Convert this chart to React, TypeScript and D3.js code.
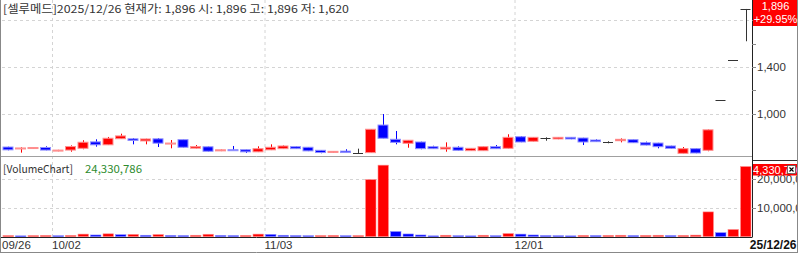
import React from "react";
import * as d3 from "d3";

const dates = [
  "2025-09-26","2025-09-29","2025-09-30",
  "2025-10-01","2025-10-02","2025-10-10",
  "2025-10-13","2025-10-14","2025-10-15","2025-10-16","2025-10-17",
  "2025-10-20","2025-10-21","2025-10-22","2025-10-23","2025-10-24",
  "2025-10-27","2025-10-28","2025-10-29","2025-10-30","2025-10-31",
  "2025-11-03","2025-11-04","2025-11-05","2025-11-06","2025-11-07",
  "2025-11-10","2025-11-11","2025-11-12","2025-11-13","2025-11-14",
  "2025-11-17","2025-11-18","2025-11-19","2025-11-20","2025-11-21",
  "2025-11-24","2025-11-25","2025-11-26","2025-11-27","2025-11-28",
  "2025-12-01","2025-12-02","2025-12-03","2025-12-04","2025-12-05",
  "2025-12-08","2025-12-09","2025-12-10","2025-12-11","2025-12-12",
  "2025-12-15","2025-12-16","2025-12-17","2025-12-18","2025-12-19",
  "2025-12-22","2025-12-23","2025-12-24","2025-12-26",
];

const openP = [716,703,703,712,682,690,705,760,735,787,786,768,786,743,779,706,718,683,693,693,675,692,702,719,714,688,670,681,663,668,904,782,748,759,719,699,714,685,685,719,705,804,765,795,785,799,793,776,763,770,779,753,750,725,662,702,688,1122,1459,1896];
const highP = [719,714,714,722,692,730,774,782,802,830,793,787,793,776,780,733,720,694,725,694,722,739,730,722,716,690,680,697,702,870,998,853,776,762,727,756,722,707,721,733,825,810,801,799,800,800,795,782,765,790,781,762,752,727,716,704,866,1122,1459,1896];
const lowP = [688,668,702,688,680,676,697,719,733,785,739,739,716,705,712,704,678,681,685,666,673,690,699,700,681,663,668,668,662,665,790,739,710,697,700,676,686,683,684,700,703,757,763,770,783,783,733,760,748,756,751,731,705,703,660,663,680,1122,1459,1620];
const closeP = [692,708,712,690,690,720,757,735,791,811,772,785,749,750,714,720,680,692,686,675,702,714,725,702,683,669,679,669,663,868,791,756,774,702,702,714,688,705,719,702,799,759,799,795,799,785,759,762,763,782,753,733,719,705,702,665,863,1122,1459,1896];
const volumes = [400000,300000,400000,450000,350000,450000,900000,600000,1000000,700000,800000,500000,750000,450000,400000,500000,850000,450000,400000,450000,900000,800000,500000,400000,350000,400000,450000,350000,400000,19800000,24800000,1800000,950000,600000,300000,500000,350000,300000,500000,350000,1100000,900000,600000,400000,350000,300000,450000,400000,450000,500000,400000,450000,500000,400000,450000,550000,8600000,1400000,2500000,24330786];

const dateLabels = ["2025-09-26","2025-10-02","2025-11-03","2025-12-01"];
const priceTicks = [1000, 1200, 1400, 1600, 1800];
const priceGrid = [1000, 1400, 1800];
const priceLabels = [1000, 1400];
const volumeTicks = [10000000, 20000000];

const headerText = "[셀루메드]2025/12/26 현재가: 1,896 시: 1,896 고: 1,896 저: 1,620";
const lastPriceText = "1,896";
const changeText = "+29.95%";
const volumeTitle = "[VolumeChart]";
const volumeValueText = "24,330,786";
const lastDateText = "25/12/26";

const RED = "#ff0000";
const BLUE = "#0000ff";
const RED_L = "#ff9090";
const BLUE_L = "#9090ff";
const DOJI = "#333333";
const GRID = "#d4d4d4";
const NUMFONT = "'Liberation Sans', Arial, sans-serif";
const KRFONT = "'Noto Sans CJK KR', 'Liberation Sans', sans-serif";

export default function App() {
  const plotL = 2, plotR = 752;
  const x = d3.scaleBand<string>().domain(dates).range([plotL, plotR]).paddingInner(0).paddingOuter(0);
  const y = d3.scaleLinear().domain([1000, 1800]).range([113.8, 20.2]);
  const yv = d3.scaleLinear().domain([0, 20000000]).range([236.7, 179]);
  const fmt = d3.format(",");

  return (
    <svg width={800} height={255} style={{ position: "absolute", left: 0, top: 0, background: "#fff" }}>
      <rect x={0} y={0} width={800} height={255} fill="#fff" />
      {/* vertical grid */}
      {dateLabels.slice(1).map((d) => (
        <line key={"vg" + d} x1={(x(d) as number) + 0.5} x2={(x(d) as number) + 0.5} y1={0} y2={237} stroke={GRID} strokeDasharray="3,3" />
      ))}
      {/* price grid */}
      {priceGrid.map((p) => (
        <line key={"pg" + p} x1={plotL} x2={plotR} y1={Math.round(y(p)) + 0.5} y2={Math.round(y(p)) + 0.5} stroke={GRID} strokeDasharray="3,3" />
      ))}
      {/* volume grid */}
      {volumeTicks.map((v) => (
        <line key={"vgr" + v} x1={plotL} x2={plotR} y1={Math.round(yv(v)) + 0.5} y2={Math.round(yv(v)) + 0.5} stroke={GRID} strokeDasharray="3,3" />
      ))}

      {/* candles */}
      {dates.map((d, i) => {
        const left = x(d) as number;
        const cx = Math.round(left + 6) + 0.5;
        const o = openP[i], c = closeP[i], h = highP[i], l = lowP[i];
        const up = c > o, flat = c === o;
        const col = flat ? DOJI : up ? RED : BLUE;
        const lcol = flat ? DOJI : up ? RED_L : BLUE_L;
        const top = y(Math.max(o, c)), bot = y(Math.min(o, c));
        return (
          <g key={"c" + d}>
            <line x1={cx} x2={cx} y1={y(h)} y2={y(l)} stroke={col} strokeWidth={1} />
            {flat ? (
              <line x1={left + 1} x2={left + 11} y1={Math.round(top) + 0.5} y2={Math.round(top) + 0.5} stroke={col} strokeWidth={1} />
            ) : (
              <rect x={left + 1} y={top} width={10} height={Math.max(1, bot - top)} fill={col} stroke={lcol} strokeWidth={1} />
            )}
          </g>
        );
      })}

      {/* volume bars */}
      {dates.map((d, i) => {
        const left = x(d) as number;
        const v = volumes[i];
        const up = i === 0 || v >= volumes[i - 1];
        const top = yv(v);
        return (
          <rect key={"v" + d} x={left + 1} y={top} width={10.5} height={Math.max(1, 236.7 - top)} fill={up ? RED : BLUE} stroke={up ? RED_L : BLUE_L} strokeWidth={0.6} />
        );
      })}

      {/* panel separator */}
      <line x1={0} x2={752} y1={156.5} y2={156.5} stroke="#a0a0a0" />
      <line x1={752} x2={798} y1={160.5} y2={160.5} stroke="#333" />
      {/* axis lines */}
      <line x1={752.5} x2={752.5} y1={0} y2={237} stroke="#222" />
      <line x1={0} x2={752.5} y1={237.5} y2={237.5} stroke="#222" />
      {/* frame */}
      <line x1={0.5} x2={0.5} y1={0} y2={253} stroke="#888" />
      <line x1={797.5} x2={797.5} y1={0} y2={253} stroke="#888" />
      <line x1={0} x2={798} y1={252.5} y2={252.5} stroke="#888" />

      {/* price ticks and labels */}
      {priceTicks.map((p) => (
        <line key={"pt" + p} x1={752} x2={756} y1={Math.round(y(p)) + 0.5} y2={Math.round(y(p)) + 0.5} stroke="#888" />
      ))}
      {priceLabels.map((p) => (
        <text key={"pl" + p} x={757} y={y(p) + 4} fontFamily={NUMFONT} fontSize={11.5} fill="#333">{fmt(p)}</text>
      ))}
      {/* volume ticks and labels */}
      <clipPath id="axclip"><rect x={753} y={0} width={44} height={255} /></clipPath>
      {volumeTicks.map((v) => (
        <g key={"vt" + v}>
          <line x1={752} x2={756} y1={Math.round(yv(v)) + 0.5} y2={Math.round(yv(v)) + 0.5} stroke="#888" />
          <text x={757} y={yv(v) + 4} fontFamily={NUMFONT} fontSize={11.5} fill="#333" clipPath="url(#axclip)">{fmt(v)}</text>
        </g>
      ))}

      {/* last price box */}
      <rect x={753} y={0} width={44} height={26} fill={RED} />
      <text x={775.5} y={10} textAnchor="middle" fontFamily={NUMFONT} fontSize={11} fill="#fff">{lastPriceText}</text>
      <text x={775.5} y={22.5} textAnchor="middle" fontFamily={NUMFONT} fontSize={11} fill="#fff">{changeText}</text>

      {/* last volume box */}
      <g clipPath="url(#axclip)">
        <rect x={753} y={164} width={44} height={11.5} fill={RED} />
        <text x={747} y={174} fontFamily={NUMFONT} fontSize={11} fill="#fff">{volumeValueText}</text>
        <rect x={787.5} y={165.5} width={8} height={8} fill="#fff" stroke="#555" strokeWidth={0.8} />
        <path d="M789.5,167.5 L793.5,171.5 M793.5,167.5 L789.5,171.5" stroke="#000" strokeWidth={1.1} />
      </g>

      {/* header */}
      <text x={3} y={13} fontFamily={KRFONT} fontSize={11} fill="#333" textLength={346} lengthAdjust="spacingAndGlyphs">{headerText}</text>
      <text x={3} y={172.5} fontFamily={KRFONT} fontSize={11} fill="#333" textLength={70} lengthAdjust="spacingAndGlyphs">{volumeTitle}</text>
      <text x={85} y={172.5} fontFamily={KRFONT} fontSize={11} fill="#2e8b2e" textLength={57} lengthAdjust="spacingAndGlyphs">{volumeValueText}</text>

      {/* date labels */}
      {dateLabels.map((d) => {
        const left = x(d) as number;
        const [, mm, dd] = d.split("-");
        return (
          <text key={"dl" + d} x={left} y={249} fontFamily={NUMFONT} fontSize={11.5} fill="#333">{mm + "/" + dd}</text>
        );
      })}
      <text x={796.5} y={249} textAnchor="end" fontFamily={NUMFONT} fontSize={12} fontWeight="bold" fill="#111">{lastDateText}</text>
    </svg>
  );
}
